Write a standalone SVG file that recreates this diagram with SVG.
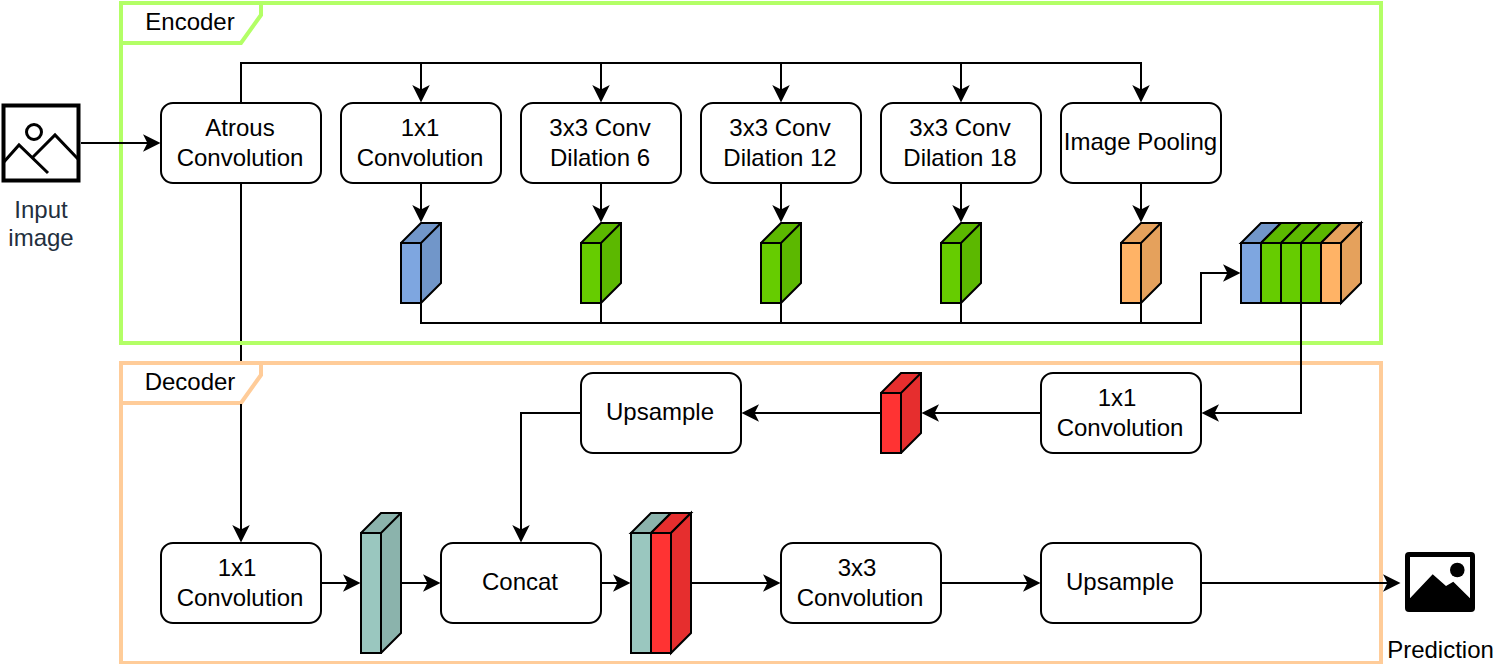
<svg xmlns="http://www.w3.org/2000/svg" width="1494" height="664" viewBox="0 0 1494 664">
<style>
text{font-family:"Liberation Sans",Arial,sans-serif;font-size:24px;fill:#000;text-anchor:middle}
.frame{fill:none;stroke-width:4}
.tab{fill:#fff;stroke-width:4}
.enc{stroke:#B3FF66}
.dec{stroke:#FFCC99}
.box{fill:#fff;stroke:#000;stroke-width:2}
.cb{stroke:#000;stroke-width:2;stroke-linejoin:miter}
.c{fill:none;stroke:#000;stroke-width:2;marker-end:url(#ah)}
.n{fill:none;stroke:#000;stroke-width:2}
.blue{fill:#7EA6E0}.blue2{fill:#7196C9}
.green{fill:#66CC00}.green2{fill:#5CB800}
.orange{fill:#FFB366}.orange2{fill:#E5A15C}
.red{fill:#FF3333}.red2{fill:#E62E2E}
.teal{fill:#9AC7BF}.teal2{fill:#8BB3AC}
</style>
<defs>
<marker id="ah" markerUnits="userSpaceOnUse" markerWidth="20" markerHeight="20" refX="14" refY="10" orient="auto"><path d="M0,1.25 L17.5,10 L0,18.75 L4.4,10 Z" fill="#000" stroke="none"/></marker>
</defs>
<g id="frames">
<rect id="encoder-frame" class="frame enc" x="121" y="3" width="1260" height="340"/>
<rect id="decoder-frame" class="frame dec" x="121" y="363" width="1260" height="300"/>
<path id="encoder-tab" class="tab enc" d="M121,3H261V15L241,43H121Z"/>
<path id="decoder-tab" class="tab dec" d="M121,363H261V375L241,403H121Z"/>
<text x="190" y="30">Encoder</text>
<text x="190" y="390">Decoder</text>
</g>
<g id="connectors">
<path class="c" d="M81,143H157"/>
<path class="c" d="M241,103V63H1141V99"/>
<path class="c" d="M421,63V99"/>
<path class="c" d="M601,63V99"/>
<path class="c" d="M781,63V99"/>
<path class="c" d="M961,63V99"/>
<path class="c" d="M421,183V219"/>
<path class="c" d="M601,183V219"/>
<path class="c" d="M781,183V219"/>
<path class="c" d="M961,183V219"/>
<path class="c" d="M1141,183V219"/>
<path class="c" d="M421,303V323H1201V273H1237"/>
<path class="n" d="M601,303V323"/>
<path class="n" d="M781,303V323"/>
<path class="n" d="M961,303V323"/>
<path class="n" d="M1141,303V323"/>
<path class="c" d="M1301,303V413H1205"/>
<path class="c" d="M1041,413H925"/>
<path class="c" d="M881,413H745"/>
<path class="c" d="M581,413H521V539"/>
<path class="c" d="M241,183V341M241,345V361M241,404V539"/>
<path class="c" d="M321,583H357"/>
<path class="c" d="M401,583H437"/>
<path class="c" d="M601,583H627"/>
<path class="c" d="M691,583H777"/>
<path class="c" d="M941,583H1037"/>
<path class="c" d="M1201,583H1397"/>
</g>
<g id="input-image">
<rect x="3.5" y="105.5" width="75" height="75" fill="#fff" stroke="#000" stroke-width="4"/>
<circle cx="34" cy="132" r="7.5" fill="none" stroke="#000" stroke-width="3"/>
<path d="M3,163L19,145L48,173M33,157L55,135L78,159" fill="none" stroke="#000" stroke-width="3"/>
<text x="41" y="218" style="fill:#232F3E">Input</text>
<text x="41" y="246" style="fill:#232F3E">image</text>
</g>
<g id="atrous"><rect class="box" x="161" y="103" width="160" height="80" rx="12"/><text x="240" y="136">Atrous</text><text x="240" y="166">Convolution</text></g>
<g id="conv1"><rect class="box" x="341" y="103" width="160" height="80" rx="12"/><text x="420" y="136">1x1</text><text x="420" y="166">Convolution</text></g>
<g id="dil6"><rect class="box" x="521" y="103" width="160" height="80" rx="12"/><text x="600" y="136">3x3 Conv</text><text x="600" y="166">Dilation 6</text></g>
<g id="dil12"><rect class="box" x="701" y="103" width="160" height="80" rx="12"/><text x="780" y="136">3x3 Conv</text><text x="780" y="166">Dilation 12</text></g>
<g id="dil18"><rect class="box" x="881" y="103" width="160" height="80" rx="12"/><text x="960" y="136">3x3 Conv</text><text x="960" y="166">Dilation 18</text></g>
<g id="pool"><rect class="box" x="1061" y="103" width="160" height="80" rx="12"/><text x="1140.5" y="150">Image Pooling</text></g>
<g id="cube-blue"><path class="cb blue2" d="M401,243L421,223H441V283L421,303H401Z"/><path class="cb n" d="M421,243L441,223"/><rect class="cb blue" x="401" y="243" width="20" height="60"/></g>
<g id="cube-g1"><path class="cb green2" d="M581,243L601,223H621V283L601,303H581Z"/><path class="cb n" d="M601,243L621,223"/><rect class="cb green" x="581" y="243" width="20" height="60"/></g>
<g id="cube-g2"><path class="cb green2" d="M761,243L781,223H801V283L781,303H761Z"/><path class="cb n" d="M781,243L801,223"/><rect class="cb green" x="761" y="243" width="20" height="60"/></g>
<g id="cube-g3"><path class="cb green2" d="M941,243L961,223H981V283L961,303H941Z"/><path class="cb n" d="M961,243L981,223"/><rect class="cb green" x="941" y="243" width="20" height="60"/></g>
<g id="cube-o"><path class="cb orange2" d="M1121,243L1141,223H1161V283L1141,303H1121Z"/><path class="cb n" d="M1141,243L1161,223"/><rect class="cb orange" x="1121" y="243" width="20" height="60"/></g>
<g id="cube-stack">
<path class="cb blue2" d="M1241,243L1261,223H1281L1261,243Z"/>
<path class="cb green2" d="M1261,243L1281,223H1301L1281,243Z"/>
<path class="cb green2" d="M1281,243L1301,223H1321L1301,243Z"/>
<path class="cb green2" d="M1301,243L1321,223H1341L1321,243Z"/>
<path class="cb orange2" d="M1321,243L1341,223H1361L1341,243Z"/>
<path class="cb orange2" d="M1341,243L1361,223V283L1341,303Z"/>
<rect class="cb blue" x="1241" y="243" width="20" height="60"/>
<rect class="cb green" x="1261" y="243" width="20" height="60"/>
<rect class="cb green" x="1281" y="243" width="20" height="60"/>
<rect class="cb green" x="1301" y="243" width="20" height="60"/>
<rect class="cb orange" x="1321" y="243" width="20" height="60"/>
</g>
<g id="conv-d1"><rect class="box" x="1041" y="373" width="160" height="80" rx="12"/><text x="1117" y="406">1x1</text><text x="1120" y="436">Convolution</text></g>
<g id="cube-red"><path class="cb red2" d="M881,393L901,373H921V433L901,453H881Z"/><path class="cb n" d="M901,393L921,373"/><rect class="cb red" x="881" y="393" width="20" height="60"/></g>
<g id="up1"><rect class="box" x="581" y="373" width="160" height="80" rx="12"/><text x="660" y="420">Upsample</text></g>
<g id="conv-d2"><rect class="box" x="161" y="543" width="160" height="80" rx="12"/><text x="237" y="576">1x1</text><text x="240" y="606">Convolution</text></g>
<g id="cube-teal"><path class="cb teal2" d="M361,533L381,513H401V633L381,653H361Z"/><path class="cb n" d="M381,533L401,513"/><rect class="cb teal" x="361" y="533" width="20" height="120"/></g>
<g id="concat"><rect class="box" x="441" y="543" width="160" height="80" rx="12"/><text x="520" y="590">Concat</text></g>
<g id="cube-tr">
<path class="cb teal2" d="M631,533L651,513H671L651,533Z"/>
<path class="cb red2" d="M651,533L671,513H691L671,533Z"/>
<path class="cb red2" d="M671,533L691,513V633L671,653Z"/>
<rect class="cb teal" x="631" y="533" width="20" height="120"/>
<rect class="cb red" x="651" y="533" width="20" height="120"/>
</g>
<g id="conv3"><rect class="box" x="781" y="543" width="160" height="80" rx="12"/><text x="857" y="576">3x3</text><text x="860" y="606">Convolution</text></g>
<g id="up2"><rect class="box" x="1041" y="543" width="160" height="80" rx="12"/><text x="1120" y="590">Upsample</text></g>
<g id="prediction">
<rect x="1405" y="552" width="70" height="60" rx="4" fill="#000"/>
<path d="M1410,557H1470V598.3L1453.3,581.7L1446,586L1432.7,574.3L1410,598.3Z" fill="#fff"/>
<circle cx="1457.3" cy="570" r="7.3" fill="#000"/>
<text x="1440.5" y="658">Prediction</text>
</g>
</svg>
